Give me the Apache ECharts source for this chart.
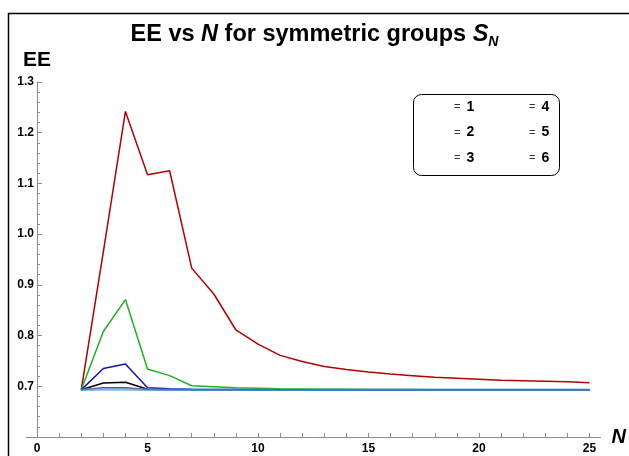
<!DOCTYPE html>
<html>
<head>
<meta charset="utf-8">
<script src="https://cdn.jsdelivr.net/npm/echarts@6/dist/echarts.min.js"></script>
<style>
  html, body { margin: 0; padding: 0; background: #fff; }
  #chart { width: 629px; height: 456px; }
</style>
</head>
<body>
<div id="chart"></div>
<script>
const nValues = [2, 3, 4, 5, 6, 7, 8, 9, 10, 11, 12, 13, 14, 15, 16, 17, 18, 19, 20, 21, 22, 23, 24, 25];

// EE values, one array per n
const ee6 = [0.693, 0.965, 1.242, 1.117, 1.125, 0.933, 0.882, 0.811, 0.783, 0.761, 0.749, 0.739,
  0.733, 0.728, 0.724, 0.721, 0.718, 0.716, 0.714, 0.712, 0.711, 0.710, 0.709, 0.707];
const ee5 = [0.693, 0.808, 0.871, 0.734, 0.721, 0.701, 0.699, 0.697, 0.696, 0.695, 0.6945, 0.694,
  0.694, 0.6937, 0.6935, 0.6935, 0.6934, 0.6933, 0.6933, 0.6932, 0.6932, 0.6932, 0.6932, 0.6931];
const ee4 = [0.693, 0.735, 0.744, 0.697, 0.695, 0.694, 0.6937, 0.6935, 0.6934, 0.6933, 0.6932, 0.6932,
  0.6932, 0.6931, 0.6931, 0.6931, 0.6931, 0.6931, 0.6931, 0.6931, 0.6931, 0.6931, 0.6931, 0.6931];
const ee3 = [0.693, 0.7065, 0.708, 0.694, 0.6935, 0.6933, 0.6932, 0.6931, 0.6931, 0.6931, 0.6931, 0.6931,
  0.6931, 0.6931, 0.6931, 0.6931, 0.6931, 0.6931, 0.6931, 0.6931, 0.6931, 0.6931, 0.6931, 0.6931];
const ee2 = [0.693, 0.697, 0.697, 0.6935, 0.6932, 0.6931, 0.6931, 0.6931, 0.6931, 0.6931, 0.6931, 0.6931,
  0.6931, 0.6931, 0.6931, 0.6931, 0.6931, 0.6931, 0.6931, 0.6931, 0.6931, 0.6931, 0.6931, 0.6931];
const ee1 = [0.693, 0.6935, 0.6935, 0.6932, 0.6931, 0.6931, 0.6931, 0.6931, 0.6931, 0.6931, 0.6931, 0.6931,
  0.6931, 0.6931, 0.6931, 0.6931, 0.6931, 0.6931, 0.6931, 0.6931, 0.6931, 0.6931, 0.6931, 0.6931];

const xLabelValues = [0, 5, 10, 15, 20, 25];
const xTickValues = [0, 1, 2, 3, 4, 5, 6, 7, 8, 9, 10, 11, 12, 13, 14, 15, 16, 17, 18, 19, 20, 21, 22, 23, 24, 25];

const FONT = 'Liberation Sans, Arial, sans-serif';
const AXIS_GRAY = '#8c8c8c';

const chart = echarts.init(document.getElementById('chart'));

function toPairs(values) {
  return values.map((v, i) => [nValues[i], v]);
}

function lineSeries(name, values, color, extra = {}) {
  return {
    name,
    type: 'line',
    data: toPairs(values),
    showSymbol: false,
    symbol: 'none',
    smooth: false,
    lineStyle: { color, width: 1.5, ...(extra.lineStyle || {}) },
    itemStyle: { color },
    z: extra.z || 2,
  };
}

const legendText = {
  fontFamily: FONT,
  rich: {
    e: { fontSize: 11, color: '#333', fontFamily: FONT, padding: [0, 6, 0, 0] },
    n: { fontSize: 14, fontWeight: 'bold', color: '#000', fontFamily: FONT },
  },
};

function legendBlock(names, left) {
  return {
    data: names,
    orient: 'vertical',
    left,
    top: 100,
    padding: 0,
    itemWidth: 25,
    itemHeight: 15,
    itemGap: 11.5,
    selectedMode: false,
    itemStyle: { opacity: 0 },
    lineStyle: { opacity: 0 },
    formatter: (name) => `{e|=}{n|${name}}`,
    textStyle: legendText,
  };
}

chart.setOption({
  animation: false,
  title: {
    left: 'center',
    top: 16,
    text: '{a|EE vs }{i|N}{a| for symmetric groups }{i|S}{s|N}',
    textStyle: {
      rich: {
        a: { fontSize: 23.5, fontWeight: 'bold', fontFamily: FONT, color: '#000', lineHeight: 28 },
        i: { fontSize: 23.5, fontWeight: 'bold', fontStyle: 'italic', fontFamily: FONT, color: '#000', lineHeight: 28 },
        s: { fontSize: 14, fontWeight: 'bold', fontStyle: 'italic', fontFamily: FONT, color: '#000',
          lineHeight: 28, padding: [15, 0, 0, 0] },
      },
    },
  },
  legend: [legendBlock(['1', '2', '3'], 423), legendBlock(['4', '5', '6'], 498)],
  grid: { left: 26, right: 28.5, top: 82, bottom: 19, containLabel: false },
  xAxis: {
    type: 'value',
    min: -0.5,
    max: 25.5,
    name: 'N',
    nameLocation: 'end',
    nameGap: 11,
    nameTextStyle: { fontFamily: FONT, fontSize: 20, fontWeight: 'bold', fontStyle: 'italic', color: '#000',
      verticalAlign: 'middle' },
    axisLine: { show: true, lineStyle: { color: AXIS_GRAY, width: 1 } },
    axisTick: { show: true, inside: true, length: 4, customValues: xTickValues, lineStyle: { color: AXIS_GRAY } },
    axisLabel: { customValues: xLabelValues, margin: 6, fontFamily: FONT, fontSize: 12, fontWeight: 'bold', color: '#000' },
    splitLine: { show: false },
  },
  yAxis: {
    type: 'value',
    min: 0.6,
    max: 1.3,
    interval: 0.1,
    name: 'EE',
    nameLocation: 'end',
    nameGap: 11,
    nameTextStyle: { fontFamily: FONT, fontSize: 21, fontWeight: 'bold', color: '#000', align: 'center' },
    axisLine: { show: true, onZero: true, lineStyle: { color: AXIS_GRAY, width: 1 } },
    axisTick: { show: true, inside: true, length: 5, lineStyle: { color: AXIS_GRAY } },
    minorTick: { show: true, splitNumber: 5, length: 3, lineStyle: { color: AXIS_GRAY } },
    axisLabel: {
      margin: -8,
      fontFamily: FONT,
      fontSize: 12,
      fontWeight: 'bold',
      color: '#000',
      formatter: (v) => (Math.abs(v - 0.6) < 1e-6 ? '' : v.toFixed(1)),
    },
    splitLine: { show: false },
  },
  graphic: [
    {
      type: 'polyline',
      shape: { points: [[8.5, 456], [8.5, 13.5], [629, 13.5]] },
      style: { stroke: '#000', lineWidth: 1.5, fill: null },
      silent: true,
    },
    {
      type: 'rect',
      shape: { x: 413.5, y: 94.5, width: 146, height: 81, r: 8 },
      style: { stroke: '#000', lineWidth: 1, fill: null },
      silent: true,
    },
  ],
  series: [
    lineSeries('6', ee6, '#b30000'),
    lineSeries('5', ee5, '#1db31d'),
    lineSeries('3', ee3, '#000000'),
    lineSeries('2', ee2, '#b81cb8'),
    lineSeries('4', ee4, '#1414b0'),
    lineSeries('1', ee1, '#3aa6c4', { lineStyle: { opacity: 0.7, width: 2.5 }, z: 3 }),
  ],
});

window.addEventListener('resize', () => chart.resize());
</script>
</body>
</html>
